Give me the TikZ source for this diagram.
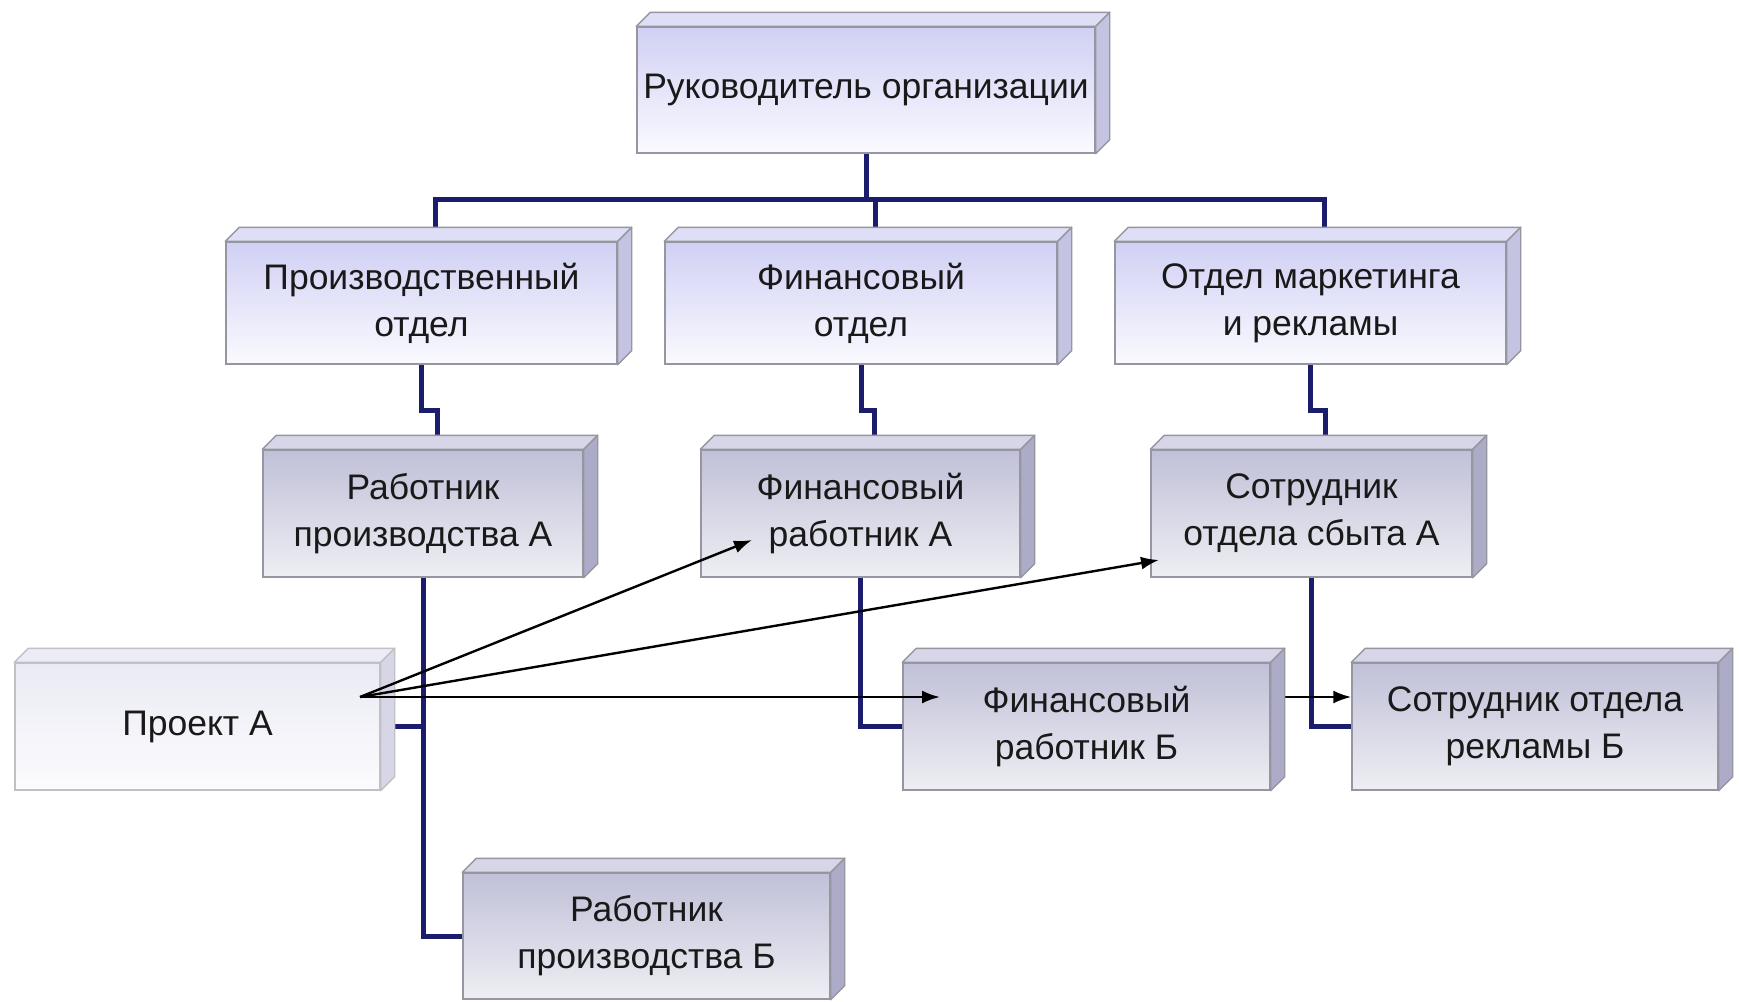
\documentclass[tikz,border=0pt]{standalone}
\usepackage{fontspec}
\setmainfont{Liberation Sans}
\usetikzlibrary{arrows.meta,calc,backgrounds}
\pgfdeclarelayer{canvas}
\pgfsetlayers{canvas,background,main}
\definecolor{navy}{RGB}{28,28,108}
\definecolor{txt}{RGB}{25,25,25}
\definecolor{lavT}{RGB}{208,208,244}
\definecolor{lavB}{RGB}{250,250,255}
\definecolor{lavTop}{RGB}{222,222,246}
\definecolor{lavSide}{RGB}{196,196,226}
\definecolor{gryT}{RGB}{192,192,216}
\definecolor{gryB}{RGB}{238,238,244}
\definecolor{gryTop}{RGB}{214,214,232}
\definecolor{grySide}{RGB}{172,172,200}
\definecolor{palT}{RGB}{234,234,244}
\definecolor{palB}{RGB}{252,252,254}
\definecolor{palTop}{RGB}{236,236,246}
\definecolor{palSide}{RGB}{214,214,230}
\definecolor{edge}{RGB}{150,150,160}
\tikzset{
  box/.style={rectangle, draw=edge, line width=1.4pt, align=center, text=txt, inner sep=0pt,
    font=\fontsize{35.5}{47}\selectfont},
  lavbox/.style={box, top color=lavT, bottom color=lavB},
  grybox/.style={box, top color=gryT, bottom color=gryB},
  palbox/.style={box, draw=edge!60, top color=palT, bottom color=palB},
  conn/.style={draw=navy, line width=5pt},
  arr/.style={draw=black, line width=2.4pt, -{Latex[length=18pt,width=13pt]}}
}
\begin{document}
\begin{tikzpicture}[x=1pt,y=-1pt]
\begin{pgfonlayer}{canvas}
\fill[white] (0,0) rectangle (1739,1001);
\end{pgfonlayer}
\useasboundingbox (0,0) rectangle (1739,1001);
% nodes
\node[lavbox, minimum width=458pt, minimum height=126pt] (top) at (866,90) {Руководитель организации};
\node[lavbox, minimum width=391pt, minimum height=122pt] (prod) at (421.5,303) {Производственный\\отдел};
\node[lavbox, minimum width=392pt, minimum height=122pt] (fin) at (861,303) {Финансовый\\отдел};
\node[lavbox, minimum width=391pt, minimum height=122pt] (mkt) at (1310.5,303) {Отдел маркетинга\\и рекламы};
\node[grybox, minimum width=320pt, minimum height=127pt] (prodA) at (423,513.5) {Работник\\производства А};
\node[grybox, minimum width=319pt, minimum height=127pt] (finA) at (860.5,513.5) {Финансовый\\работник А};
\node[grybox, minimum width=321pt, minimum height=127pt] (sbytA) at (1311.5,513.5) {Сотрудник\\отдела сбыта А};
\node[palbox, minimum width=365pt, minimum height=127pt] (proj) at (197.5,726.5) {Проект А};
\node[grybox, minimum width=367pt, minimum height=127pt] (finB) at (1086.5,726.5) {Финансовый\\работник Б};
\node[grybox, minimum width=366pt, minimum height=127pt] (adB) at (1535,726.5) {Сотрудник отдела\\рекламы Б};
\node[grybox, minimum width=367pt, minimum height=126pt] (prodB) at (646.5,936) {Работник\\производства Б};
% 3D faces
\foreach \n/\tc/\sc/\ec in {top/lavTop/lavSide/edge, prod/lavTop/lavSide/edge, fin/lavTop/lavSide/edge, mkt/lavTop/lavSide/edge,
  prodA/gryTop/grySide/edge, finA/gryTop/grySide/edge, sbytA/gryTop/grySide/edge, finB/gryTop/grySide/edge,
  adB/gryTop/grySide/edge, prodB/gryTop/grySide/edge, proj/palTop/palSide/edge!60}{
  \filldraw[fill=\tc, draw=\ec, line width=1.4pt, line join=round] (\n.north west) -- ++(14,-14) -- ($(\n.north east)+(14,-14)$) -- (\n.north east) -- cycle;
  \filldraw[fill=\sc, draw=\ec, line width=1.4pt, line join=round] (\n.north east) -- ++(14,-14) -- ($(\n.south east)+(14,-14)$) -- (\n.south east) -- cycle;
}
\coordinate (bus) at (0,200);
\coordinate (pa) at (360,697);
\coordinate (faEnd) at (752,540);
\coordinate (saEnd) at (1159,560);
\coordinate (fbEnd) at (940,697);
% connectors behind boxes
\begin{scope}[on background layer]
  \draw[conn] (top.south) -- (top.south |- bus);
  \draw[conn] ($(fin.north)+(14,-14)$) -- ++(0,-28);
  \draw[conn] ($(prod.north)+(14,-14)$) -- ++(0,-28) -| ($(mkt.north)+(14,-14)$);
  \draw[conn] (prod.south) -- ++(0,46) -| ($(prodA.north)+(14,-14)$);
  \draw[conn] (fin.south) -- ++(0,46) -| ($(finA.north)+(14,-14)$);
  \draw[conn] (mkt.south) -- ++(0,46) -| ($(sbytA.north)+(14,-14)$);
  \draw[conn] (prodA.south) |- (prodB.west);
  \draw[conn] (finA.south) |- (finB.west);
  \draw[conn] (sbytA.south) |- (adB.west);
  \draw[conn] (proj.east) -- (proj.east -| prodA.south);
  \draw[arr] (pa) -- (adB.west |- pa);
\end{scope}
% arrows from Проект А
\draw[arr] (pa) -- (faEnd);
\draw[arr] (pa) -- (saEnd);
\draw[arr] (pa) -- (fbEnd);
\end{tikzpicture}
\end{document}
